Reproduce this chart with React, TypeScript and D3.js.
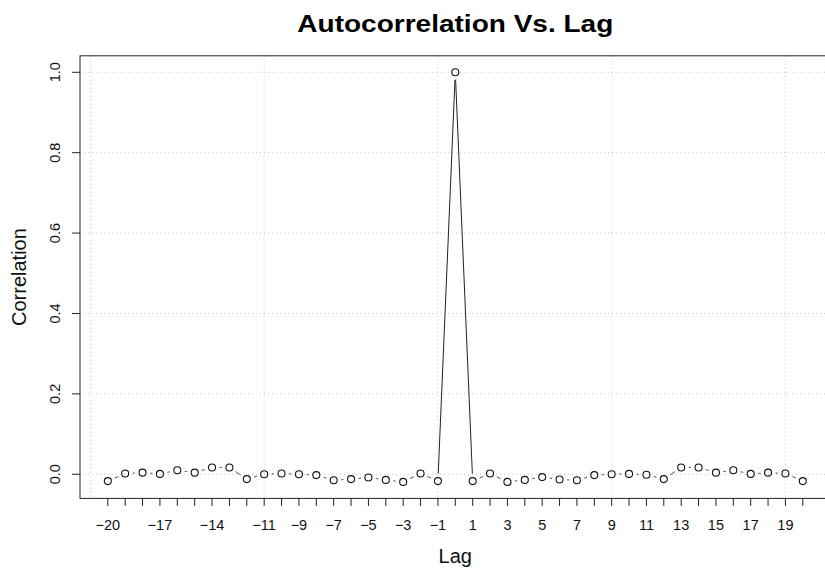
import React from "react";
import * as d3 from "d3";

const lags: number[] = d3.range(-20, 21);
const correlations: number[] = [
  -0.017, 0.002, 0.004, 0.001, 0.010, 0.004, 0.017, 0.017, -0.012, 0.0,
  0.002, 0.0, -0.002, -0.015, -0.012, -0.008, -0.014, -0.019, 0.002, -0.017,
  1.0,
  -0.017, 0.002, -0.019, -0.014, -0.007, -0.013, -0.015, -0.002, 0.0, 0.001,
  -0.001, -0.012, 0.017, 0.017, 0.004, 0.010, 0.001, 0.004, 0.002, -0.017,
];
const xTickLabels: number[] = [-20, -17, -14, -11, -9, -7, -5, -3, -1, 1, 3, 5, 7, 9, 11, 13, 15, 17, 19];
const yTicks: number[] = [0, 0.2, 0.4, 0.6, 0.8, 1.0];
const xGridLags: number[] = [-21, -11, -1, 9, 19];

const W = 825;
const H = 568;
const left = 80;
const right = 830.6;
const top = 55.8;
const bottom = 498.4;
const FONT = "'Liberation Sans', Arial, Helvetica, sans-serif";

export default function App() {
  const x = d3.scaleLinear().domain([-21.6, 21.6]).range([left, right]);
  const y = d3.scaleLinear().domain([-0.06, 1.041]).range([bottom, top]);
  const pts = lags.map((l, i) => ({ l, v: correlations[i], px: x(l), py: y(correlations[i]) }));
  const gap = 7.5;
  const segs: { x1: number; y1: number; x2: number; y2: number; long: boolean }[] = [];
  for (let i = 0; i < pts.length - 1; i++) {
    const a = pts[i];
    const b = pts[i + 1];
    const dx = b.px - a.px;
    const dy = b.py - a.py;
    const len = Math.hypot(dx, dy);
    if (len <= 2 * gap) continue;
    const ux = dx / len;
    const uy = dy / len;
    segs.push({ x1: a.px + ux * gap, y1: a.py + uy * gap, x2: b.px - ux * gap, y2: b.py - uy * gap, long: len > 40 });
  }
  const fmt = (v: number) => (v < 0 ? "\u2212" + Math.abs(v) : String(v));
  return (
    <svg width={W} height={H} style={{ position: "absolute", left: 0, top: 0, background: "#fff" }} fontFamily={FONT}>
      <rect x={0} y={0} width={W} height={H} fill="#fff" />
      {yTicks.map((t) => (
        <line key={"gy" + t} x1={left} x2={right} y1={y(t)} y2={y(t)} stroke="#c8c8c8" strokeWidth={1} strokeDasharray="1,3" />
      ))}
      {xGridLags.map((l) => (
        <line key={"gx" + l} x1={x(l)} x2={x(l)} y1={top} y2={bottom} stroke="#c8c8c8" strokeWidth={1} strokeDasharray="1,3" />
      ))}
      {segs.map((s, i) => (
        <line key={"s" + i} x1={s.x1} y1={s.y1} x2={s.x2} y2={s.y2} stroke={s.long ? "#222" : "#555"} strokeWidth={1} />
      ))}
      {pts.map((p) => (
        <circle key={"p" + p.l} cx={p.px} cy={p.py} r={3.5} fill="none" stroke="#111" strokeWidth={1.1} />
      ))}
      <rect x={left} y={top} width={right - left} height={bottom - top} fill="none" stroke="#222" strokeWidth={1} />
      {lags.map((l) => (
        <line key={"xt" + l} x1={x(l)} x2={x(l)} y1={bottom} y2={bottom + 7.5} stroke="#222" strokeWidth={1} />
      ))}
      {xTickLabels.map((l) => (
        <text key={"xl" + l} x={x(l)} y={530} textAnchor="middle" fontSize={14.5} fill="#111">
          {fmt(l)}
        </text>
      ))}
      {yTicks.map((t) => (
        <line key={"yt" + t} x1={left - 8} x2={left} y1={y(t)} y2={y(t)} stroke="#222" strokeWidth={1} />
      ))}
      {yTicks.map((t) => (
        <text key={"yl" + t} transform={`translate(60,${y(t)}) rotate(-90)`} textAnchor="middle" fontSize={14.5} fill="#111">
          {t.toFixed(1)}
        </text>
      ))}
      <text x={(left + right) / 2} y={32} textAnchor="middle" fontSize={23} fontWeight="bold" fill="#000" textLength={316} lengthAdjust="spacingAndGlyphs">
        Autocorrelation Vs. Lag
      </text>
      <text x={(left + right) / 2} y={563} textAnchor="middle" fontSize={20} fill="#111">
        Lag
      </text>
      <text transform={`translate(26,${(top + bottom) / 2}) rotate(-90)`} textAnchor="middle" fontSize={20} fill="#111">
        Correlation
      </text>
    </svg>
  );
}
